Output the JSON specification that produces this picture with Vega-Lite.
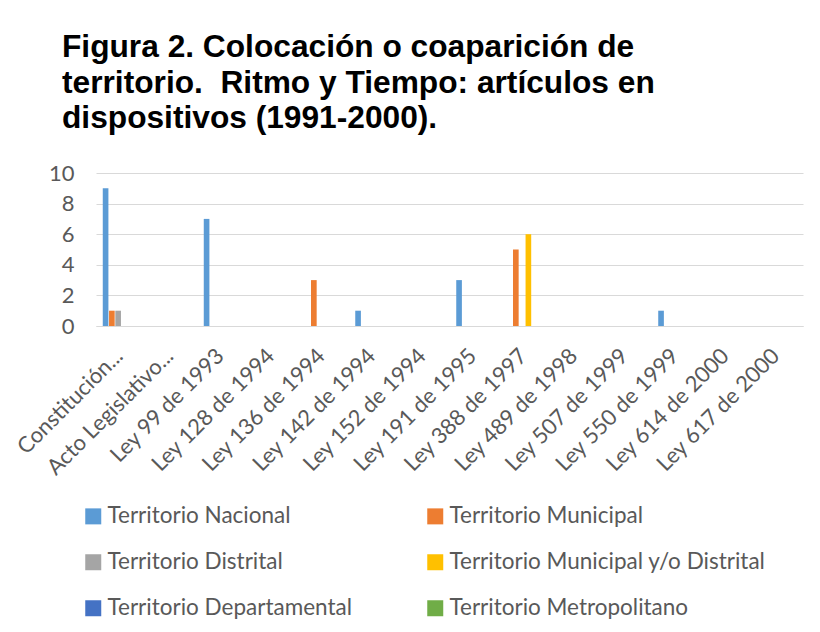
{
  "$schema": "https://vega.github.io/schema/vega-lite/v6.json",
  "autosize": "none",
  "padding": {"left": 96, "top": 173, "right": 17, "bottom": 306},
  "width": 707,
  "height": 153,
  "background": "white",
  "title": {
    "text": ["Figura 2. Colocación o coaparición de", "territorio. \u00a0Ritmo y Tiempo: artículos en", "dispositivos (1991-2000)."],
    "anchor": "start",
    "frame": "group",
    "dx": -34,
    "font": "Liberation Sans",
    "fontSize": 31.7,
    "fontWeight": "bold",
    "color": "#000000",
    "lineHeight": 35.5,
    "offset": 27
  },
  "data": {
    "values": [
      {"ley": "Constitución...", "serie": "Territorio Nacional", "n": 9},
      {"ley": "Constitución...", "serie": "Territorio Municipal", "n": 1},
      {"ley": "Constitución...", "serie": "Territorio Distrital", "n": 1},
      {"ley": "Ley 99 de 1993", "serie": "Territorio Nacional", "n": 7},
      {"ley": "Ley 136 de 1994", "serie": "Territorio Municipal", "n": 3},
      {"ley": "Ley 142 de 1994", "serie": "Territorio Nacional", "n": 1},
      {"ley": "Ley 191 de 1995", "serie": "Territorio Nacional", "n": 3},
      {"ley": "Ley 388 de 1997", "serie": "Territorio Municipal", "n": 5},
      {"ley": "Ley 388 de 1997", "serie": "Territorio Municipal y/o Distrital", "n": 6},
      {"ley": "Ley 550 de 1999", "serie": "Territorio Nacional", "n": 1}
    ]
  },
  "mark": {"type": "bar"},
  "encoding": {
    "x": {
      "field": "ley",
      "type": "nominal",
      "sort": null,
      "scale": {
        "domain": ["Constitución...", "Acto Legislativo...", "Ley 99 de 1993", "Ley 128 de 1994", "Ley 136 de 1994", "Ley 142 de 1994", "Ley 152 de 1994", "Ley 191 de 1995", "Ley 388 de 1997", "Ley 489 de 1998", "Ley 507 de 1999", "Ley 550 de 1999", "Ley 614 de 2000", "Ley 617 de 2000"],
        "paddingInner": 0.267,
        "paddingOuter": 0.134
      },
      "axis": {
        "title": null,
        "labelAngle": -45,
        "labelFont": "Lato",
        "labelFontSize": 22,
        "labelColor": "#595959",
        "ticks": false,
        "tickSize": 0,
        "labelPadding": 19,
        "labelOffset": -9,
        "domainColor": "#D9D9D9",
        "domainWidth": 1,
        "grid": false
      }
    },
    "xOffset": {
      "field": "serie",
      "type": "nominal",
      "scale": {
        "domain": ["Territorio Nacional", "Territorio Municipal", "Territorio Distrital", "Territorio Municipal y/o Distrital", "Territorio Departamental", "Territorio Metropolitano"],
        "paddingInner": 0.1
      }
    },
    "y": {
      "field": "n",
      "type": "quantitative",
      "scale": {"domain": [0, 10], "nice": false},
      "axis": {
        "title": null,
        "values": [0, 2, 4, 6, 8, 10],
        "labelFont": "Lato",
        "labelFontSize": 22,
        "labelColor": "#595959",
        "labelPadding": 22,
        "ticks": false,
        "domain": false,
        "gridColor": "#D9D9D9",
        "gridWidth": 1
      }
    },
    "color": {
      "field": "serie",
      "type": "nominal",
      "scale": {
        "domain": ["Territorio Nacional", "Territorio Distrital", "Territorio Departamental", "Territorio Municipal", "Territorio Municipal y/o Distrital", "Territorio Metropolitano"],
        "range": ["#5B9BD5", "#A5A5A5", "#4472C4", "#ED7D31", "#FFC000", "#70AD47"]
      },
      "legend": {
        "title": null,
        "orient": "none",
        "legendX": -14,
        "legendY": 332,
        "columns": 2,
        "columnPadding": 72,
        "rowPadding": 23,
        "symbolType": "square",
        "symbolSize": 256,
        "symbolStrokeWidth": 0,
        "labelOffset": 3,
        "labelFont": "Lato",
        "labelFontSize": 22.5,
        "labelColor": "#595959",
        "labelLimit": 400
      }
    }
  },
  "config": {
    "view": {"stroke": null}
  }
}
